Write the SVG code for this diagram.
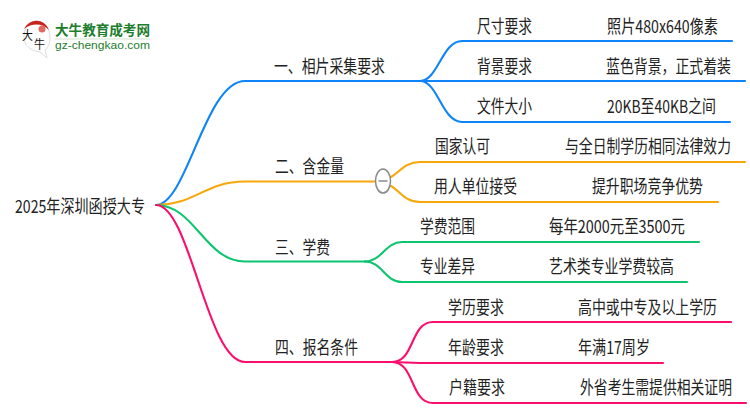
<svg xmlns="http://www.w3.org/2000/svg" width="750" height="410" viewBox="0 0 750 410">
<style>
text{font-family:"Noto Sans CJK SC","Liberation Sans",sans-serif;font-size:14px;fill:#222}
.c{fill:none;stroke-width:2.100;stroke-linecap:round}
.b{stroke:#0f84f8}.o{stroke:#f7a70a}.g{stroke:#0cc56e}.p{stroke:#fb0f6e}
.l{font-weight:700;fill:#1c7d2e}
</style>
<rect width="750" height="410" fill="#fff"/>
<g id="logo">
<path d="M36 21C28 21 24 29 24 37C24 46 31 51 40 52L47 58L45 50C49 47 50 42 50 37C50 29 44 21 36 21Z" fill="#fff" stroke="#ddd" stroke-width="1"/>
<path d="M24 29C30 18 44 18 49 30C42 23 32 23 24 29Z" fill="#c8241c"/>
<circle cx="42" cy="29" r="3.500" fill="#e06a60"/>
<text x="22" y="40" textLength="11" lengthAdjust="spacingAndGlyphs" style="font-size:12px;fill:#111">大</text>
<text x="34" y="49" textLength="11" lengthAdjust="spacingAndGlyphs" style="font-size:12px;fill:#111">牛</text>
<text class="l" x="55" y="35" textLength="95" lengthAdjust="spacingAndGlyphs" style="font-size:13.500px">大牛教育成考网</text>
<rect x="55" y="38.500" width="95" height="1" fill="#cfe3d2"/>
<text x="55" y="49" textLength="95" lengthAdjust="spacingAndGlyphs" style="font-family:'Liberation Sans',sans-serif;font-size:11px;fill:#1c7d2e">gz-chengkao.com</text>
</g>
<g id="connectors">
<path class="c b" d="M156 205C187 205 205 81 245 81H420"/>
<path class="c b" d="M420 81C438 81 442 41 462 41H732"/>
<path class="c b" d="M420 81H745"/>
<path class="c b" d="M420 81C438 81 442 122 462 122H730"/>
<path class="c o" d="M156 205C195 205 205 181.500 245 181.500H375"/>
<path class="c o" d="M391 177C400 172 405 162 420 162H745"/>
<path class="c o" d="M391 186C400 191 405 202 420 202H718"/>
<path class="c g" d="M156 205C195 205 205 261.500 245 261.500H365"/>
<path class="c g" d="M365 261.500C382 261.500 385 242 402 242H699"/>
<path class="c g" d="M365 261.500C382 261.500 385 282 402 282H687"/>
<path class="c p" d="M156 205C190 205 207 362 245 362H392"/>
<path class="c p" d="M392 362C415 362 410 322 433 322H731"/>
<path class="c p" d="M392 362L420 363H663"/>
<path class="c p" d="M392 362C415 362 410 403 433 403H746"/>
</g>
<g id="root"><text transform="translate(15 213) scale(1 1.270)" textLength="130" lengthAdjust="spacingAndGlyphs">2025年深圳函授大专</text></g>
<g id="n1"><text transform="translate(274 73) scale(1 1.270)" textLength="111" lengthAdjust="spacingAndGlyphs">一、相片采集要求</text></g>
<g id="n1a"><text transform="translate(477 33) scale(1 1.270)" textLength="55" lengthAdjust="spacingAndGlyphs">尺寸要求</text></g>
<g id="n1av"><text transform="translate(607 33) scale(1 1.270)" textLength="111" lengthAdjust="spacingAndGlyphs">照片480x640像素</text></g>
<g id="n1b"><text transform="translate(477 73) scale(1 1.270)" textLength="55" lengthAdjust="spacingAndGlyphs">背景要求</text></g>
<g id="n1bv"><text transform="translate(606 73) scale(1 1.270)" textLength="125" lengthAdjust="spacingAndGlyphs">蓝色背景，正式着装</text></g>
<g id="n1c"><text transform="translate(477 113) scale(1 1.270)" textLength="55" lengthAdjust="spacingAndGlyphs">文件大小</text></g>
<g id="n1cv"><text transform="translate(607 113) scale(1 1.270)" textLength="109" lengthAdjust="spacingAndGlyphs">20KB至40KB之间</text></g>
<g id="n2"><text transform="translate(275 173) scale(1 1.270)" textLength="69" lengthAdjust="spacingAndGlyphs">二、含金量</text></g>
<g id="toggle"><ellipse cx="383" cy="181" rx="7.500" ry="12" fill="#fff" stroke="#8a8a8a" stroke-width="1.500"/><path d="M378.500 181H387.500" stroke="#8a8a8a" stroke-width="1.500"/></g>
<g id="n2a"><text transform="translate(435 153) scale(1 1.270)" textLength="55" lengthAdjust="spacingAndGlyphs">国家认可</text></g>
<g id="n2av"><text transform="translate(565 153) scale(1 1.270)" textLength="166" lengthAdjust="spacingAndGlyphs">与全日制学历相同法律效力</text></g>
<g id="n2b"><text transform="translate(434 193) scale(1 1.270)" textLength="83" lengthAdjust="spacingAndGlyphs">用人单位接受</text></g>
<g id="n2bv"><text transform="translate(592 193) scale(1 1.270)" textLength="111" lengthAdjust="spacingAndGlyphs">提升职场竞争优势</text></g>
<g id="n3"><text transform="translate(275 254) scale(1 1.270)" textLength="55" lengthAdjust="spacingAndGlyphs">三、学费</text></g>
<g id="n3a"><text transform="translate(420 233) scale(1 1.270)" textLength="55" lengthAdjust="spacingAndGlyphs">学费范围</text></g>
<g id="n3av"><text transform="translate(549 233) scale(1 1.270)" textLength="136" lengthAdjust="spacingAndGlyphs">每年2000元至3500元</text></g>
<g id="n3b"><text transform="translate(420 273) scale(1 1.270)" textLength="55" lengthAdjust="spacingAndGlyphs">专业差异</text></g>
<g id="n3bv"><text transform="translate(549 273) scale(1 1.270)" textLength="125" lengthAdjust="spacingAndGlyphs">艺术类专业学费较高</text></g>
<g id="n4"><text transform="translate(275 354) scale(1 1.270)" textLength="83" lengthAdjust="spacingAndGlyphs">四、报名条件</text></g>
<g id="n4a"><text transform="translate(448 314) scale(1 1.270)" textLength="56" lengthAdjust="spacingAndGlyphs">学历要求</text></g>
<g id="n4av"><text transform="translate(578 314) scale(1 1.270)" textLength="139" lengthAdjust="spacingAndGlyphs">高中或中专及以上学历</text></g>
<g id="n4b"><text transform="translate(448 354) scale(1 1.270)" textLength="56" lengthAdjust="spacingAndGlyphs">年龄要求</text></g>
<g id="n4bv"><text transform="translate(578 354) scale(1 1.270)" textLength="72" lengthAdjust="spacingAndGlyphs">年满17周岁</text></g>
<g id="n4c"><text transform="translate(449 394) scale(1 1.270)" textLength="56" lengthAdjust="spacingAndGlyphs">户籍要求</text></g>
<g id="n4cv"><text transform="translate(580 394) scale(1 1.270)" textLength="152" lengthAdjust="spacingAndGlyphs">外省考生需提供相关证明</text></g>
</svg>
